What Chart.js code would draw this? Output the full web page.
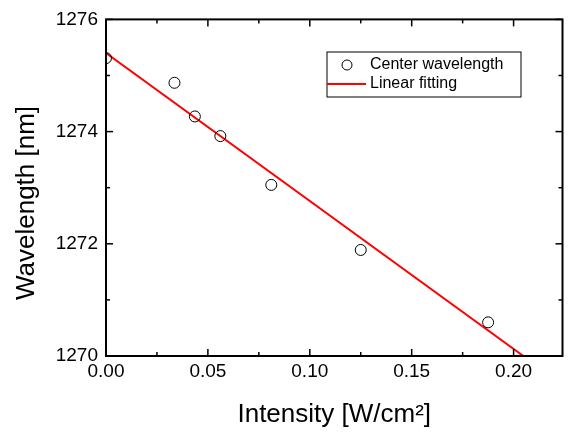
<!DOCTYPE html>
<html>
<head>
<meta charset="utf-8">
<script src="https://cdn.jsdelivr.net/npm/chart.js@4/dist/chart.umd.min.js"></script>
<style>
  html, body { margin: 0; padding: 0; background: #fff; }
  #wrap { width: 569px; height: 432px; }
</style>
</head>
<body>
<div id="wrap"><canvas id="wavelength-chart" width="569" height="432"></canvas></div>
<script>
const intensity = [0, 0.0336, 0.0436, 0.0561, 0.0811, 0.125, 0.1875];
const wavelength = [1275.31, 1274.87, 1274.27, 1273.92, 1273.05, 1271.89, 1270.60];
const fitIntensity = [0, 0.2048];
const fitWavelength = [1275.40, 1270.00];
const xTickValues = [0, 0.05, 0.10, 0.15, 0.20];
const xMinorValues = [0.025, 0.075, 0.125, 0.175];
const yTickValues = [1270, 1272, 1274, 1276];
const yMinorValues = [1271, 1273, 1275];

const fontFamily = "'Liberation Sans', Arial, sans-serif";

function toPoints(xs, ys) {
  return xs.map((x, i) => ({x: x, y: ys[i]}));
}

// frame with inward ticks on all four sides, the way Origin draws it
const frameTicks = {
  id: 'frameTicks',
  afterDraw(chart) {
    const {ctx, chartArea: a, scales: {x, y}} = chart;
    const seg = (x1, y1, x2, y2) => {
      ctx.beginPath();
      ctx.moveTo(x1, y1);
      ctx.lineTo(x2, y2);
      ctx.stroke();
    };
    ctx.save();
    ctx.strokeStyle = '#000';
    ctx.lineWidth = 1.5;
    const xTicks = (values, len) => values.forEach(v => {
      const px = x.getPixelForValue(v);
      seg(px, a.bottom, px, a.bottom - len);
      seg(px, a.top, px, a.top + len);
    });
    const yTicks = (values, len) => values.forEach(v => {
      const py = y.getPixelForValue(v);
      seg(a.left, py, a.left + len, py);
      seg(a.right, py, a.right - len, py);
    });
    xTicks(xTickValues, 7);
    xTicks(xMinorValues, 4);
    yTicks(yTickValues, 7);
    yTicks(yMinorValues, 4);
    ctx.lineWidth = 2;
    ctx.strokeRect(a.left, a.top, a.right - a.left, a.bottom - a.top);

    // y axis title, drawn by hand to sit where Origin put it
    ctx.fillStyle = '#000';
    ctx.font = '26px ' + fontFamily;
    ctx.textAlign = 'center';
    ctx.textBaseline = 'middle';
    ctx.translate(27, 203);
    ctx.rotate(-Math.PI / 2);
    ctx.fillText('Wavelength [nm]', 0, 0);
    ctx.restore();
  }
};

// boxed legend inside the plot area
const boxLegend = {
  id: 'boxLegend',
  afterDraw(chart, args, opts) {
    const ctx = chart.ctx;
    const ds = chart.data.datasets;
    ctx.save();
    ctx.strokeStyle = '#000';
    ctx.lineWidth = 1;
    ctx.strokeRect(opts.left, opts.top, opts.width, opts.height);

    ctx.beginPath();
    ctx.arc(opts.left + 20, opts.top + 13, 5, 0, Math.PI * 2);
    ctx.fillStyle = '#fff';
    ctx.fill();
    ctx.stroke();

    ctx.strokeStyle = ds[1].borderColor;
    ctx.lineWidth = 2;
    ctx.beginPath();
    ctx.moveTo(opts.left, opts.top + 32);
    ctx.lineTo(opts.left + 39, opts.top + 32);
    ctx.stroke();

    ctx.fillStyle = '#000';
    ctx.font = '16px ' + fontFamily;
    ctx.textAlign = 'left';
    ctx.textBaseline = 'middle';
    ctx.fillText(ds[0].label, opts.left + 43, opts.top + 13);
    ctx.fillText(ds[1].label, opts.left + 43, opts.top + 32);
    ctx.restore();
  }
};

new Chart(document.getElementById('wavelength-chart').getContext('2d'), {
  type: 'scatter',
  data: {
    datasets: [
      {
        label: 'Center wavelength',
        data: toPoints(intensity, wavelength),
        showLine: false,
        pointStyle: 'circle',
        pointRadius: 5.5,
        pointBorderWidth: 1,
        pointBorderColor: '#000',
        pointBackgroundColor: 'rgba(255,255,255,0)',
        order: 1
      },
      {
        label: 'Linear fitting',
        data: toPoints(fitIntensity, fitWavelength),
        showLine: true,
        borderColor: 'rgb(255, 0, 0)',
        borderWidth: 2,
        pointRadius: 0,
        order: 2
      }
    ]
  },
  options: {
    responsive: false,
    animation: false,
    layout: {padding: {top: 16, right: 4, left: 0, bottom: 0}},
    plugins: {
      legend: {display: false},
      tooltip: {enabled: false},
      boxLegend: {left: 327, top: 52, width: 194, height: 45}
    },
    scales: {
      x: {
        type: 'linear',
        min: 0,
        max: 0.224,
        afterBuildTicks: s => { s.ticks = xTickValues.map(v => ({value: v})); },
        afterFit: s => { s.height = 76; },
        grid: {display: false, drawTicks: false},
        border: {display: false},
        ticks: {
          padding: 4,
          color: '#000',
          font: {family: fontFamily, size: 19},
          callback: v => Number(v).toFixed(2)
        },
        title: {
          display: true,
          text: 'Intensity [W/cm²]',
          color: '#000',
          font: {family: fontFamily, size: 26},
          padding: {top: 0, bottom: 2}
        }
      },
      y: {
        type: 'linear',
        min: 1270,
        max: 1276,
        afterBuildTicks: s => { s.ticks = yTickValues.map(v => ({value: v})); },
        afterFit: s => { s.width = 106; },
        grid: {display: false, drawTicks: false},
        border: {display: false},
        ticks: {
          padding: 8,
          color: '#000',
          font: {family: fontFamily, size: 19},
          callback: v => String(v)
        }
      }
    }
  },
  plugins: [frameTicks, boxLegend]
});
</script>
</body>
</html>
